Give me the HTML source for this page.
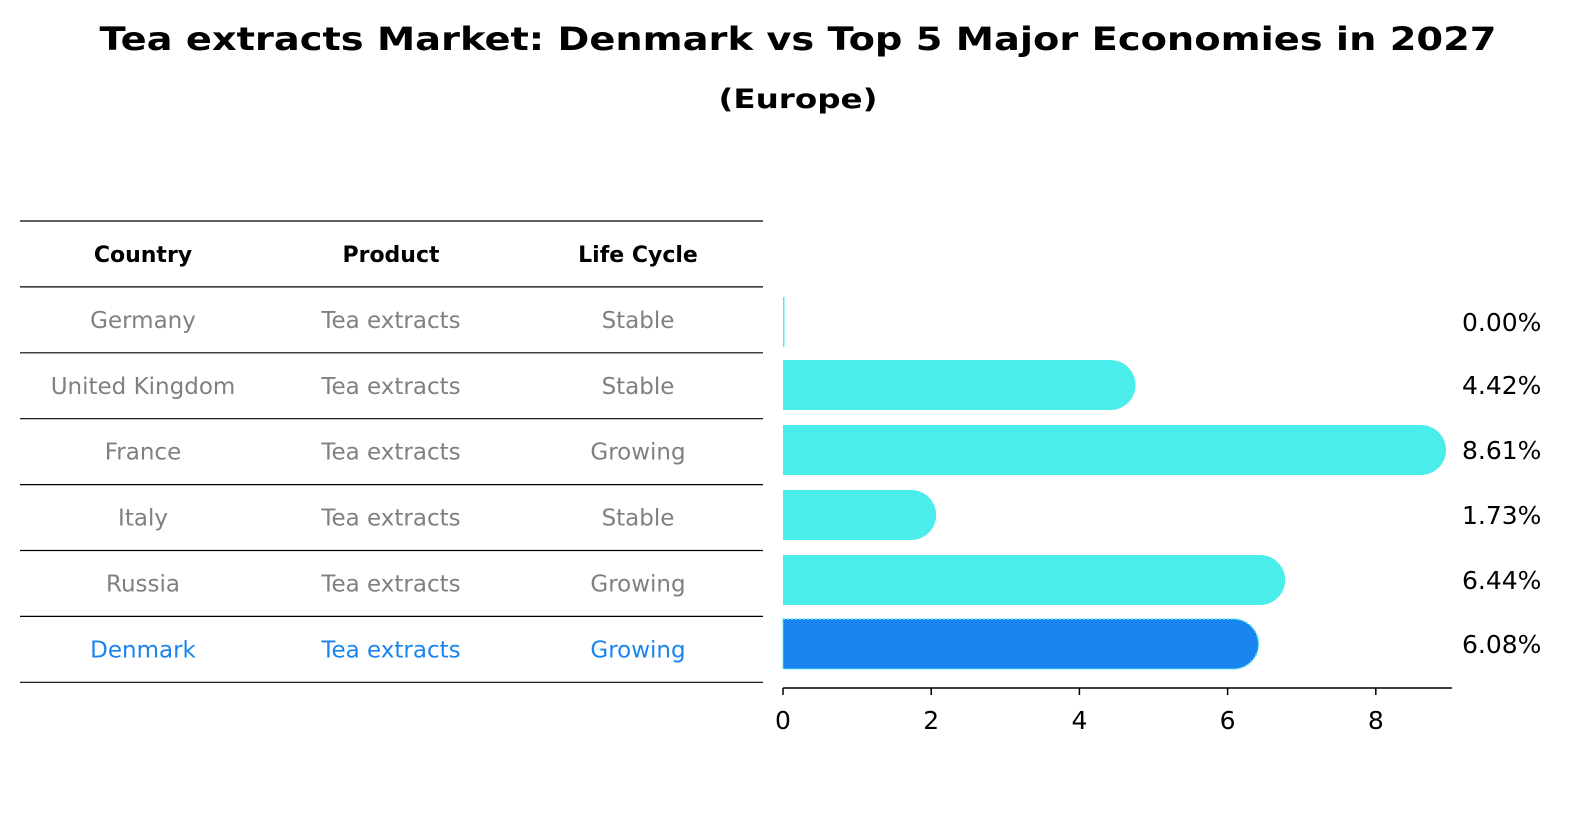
<!DOCTYPE html>
<html><head><meta charset="utf-8"><style>
html,body{margin:0;padding:0;background:#fff;overflow:hidden;width:1586px;height:823px}
svg{display:block}
</style></head><body>
<svg id="c" width="1586" height="823" xmlns="http://www.w3.org/2000/svg" style="font-family:'DejaVu Sans','Liberation Sans',sans-serif">
<text x="798" y="50" text-anchor="middle" font-size="32" font-weight="bold" textLength="1397" lengthAdjust="spacingAndGlyphs">Tea extracts Market: Denmark vs Top 5 Major Economies in 2027</text>
<text x="798" y="108" text-anchor="middle" font-size="27" font-weight="bold" textLength="159" lengthAdjust="spacingAndGlyphs">(Europe)</text>
<g id="table"></g>
<g id="bars"></g>
</svg>
<script>
const countries=["Germany","United Kingdom","France","Italy","Russia","Denmark"];
const products=["Tea extracts","Tea extracts","Tea extracts","Tea extracts","Tea extracts","Tea extracts"];
const lifeCycles=["Stable","Stable","Growing","Stable","Growing","Growing"];
const values=[0.00,4.42,8.61,1.73,6.44,6.08];
const ticks=[0,2,4,6,8];
const NS="http://www.w3.org/2000/svg";
function mk(tag,attrs,parent,text){const e=document.createElementNS(NS,tag);for(const k in attrs)e.setAttribute(k,attrs[k]);if(text!==undefined)e.textContent=text;parent.appendChild(e);return e;}
const tbl=document.getElementById('table');
const colX=[143,391,638];
const rowTop=221,rowH=65.9;
const hdrs=["Country","Product","Life Cycle"];
for(let i=0;i<=7;i++){const y=rowTop+i*rowH;const l=mk('line',{x1:20,x2:763,y1:y,y2:y,stroke:'#000','stroke-width':1.2},tbl);
}
hdrs.forEach((h,j)=>{const t=mk('text',{x:colX[j],y:rowTop+rowH/2+8,'text-anchor':'middle','font-size':22,'font-weight':'bold'},tbl,h);
});
countries.forEach((c,i)=>{const y=rowTop+(i+1)*rowH+rowH/2+8;const col=i===5?'#1a85f0':'#808080';
[c,products[i],lifeCycles[i]].forEach((v,j)=>{const t=mk('text',{x:colX[j],y:y,'text-anchor':'middle','font-size':23,fill:col},tbl,v);
});});
const g=document.getElementById('bars');
const x0=783,sc=74.1;const xs=v=>x0+v*sc;
const centers=[322,385,450,515,580,644],bh=50;
values.forEach((v,i)=>{const cy=centers[i];const col=i===5?'#1a85f0':'#4bedea';const w=xs(v)-x0;
let e;
if(v<=0.001){e=mk('rect',{x:x0,y:cy-bh/2,width:1.5,height:bh,fill:col},g);}
else{const r=bh/2;const d=`M${x0},${cy-r} H${x0+w} A${r},${r} 0 0 1 ${x0+w},${cy+r} H${x0} Z`;
e=mk('path',{d:d,fill:col},g);if(i===5){e.setAttribute('stroke','#4bedea');e.setAttribute('stroke-dasharray','2,2');e.setAttribute('stroke-width','1.5');}}

const t=mk('text',{x:1462,y:cy+9,'font-size':25},g,v.toFixed(2)+'%');
});
const ax=mk('line',{x1:x0,x2:1452,y1:688,y2:688,stroke:'#000','stroke-width':1.5},g);

ticks.forEach(tk=>{const tl=mk('line',{x1:xs(tk),x2:xs(tk),y1:688,y2:695,stroke:'#000','stroke-width':1.5},g);

const t=mk('text',{x:xs(tk),y:729,'text-anchor':'middle','font-size':25},g,String(tk));
});
</script>
</body></html>
